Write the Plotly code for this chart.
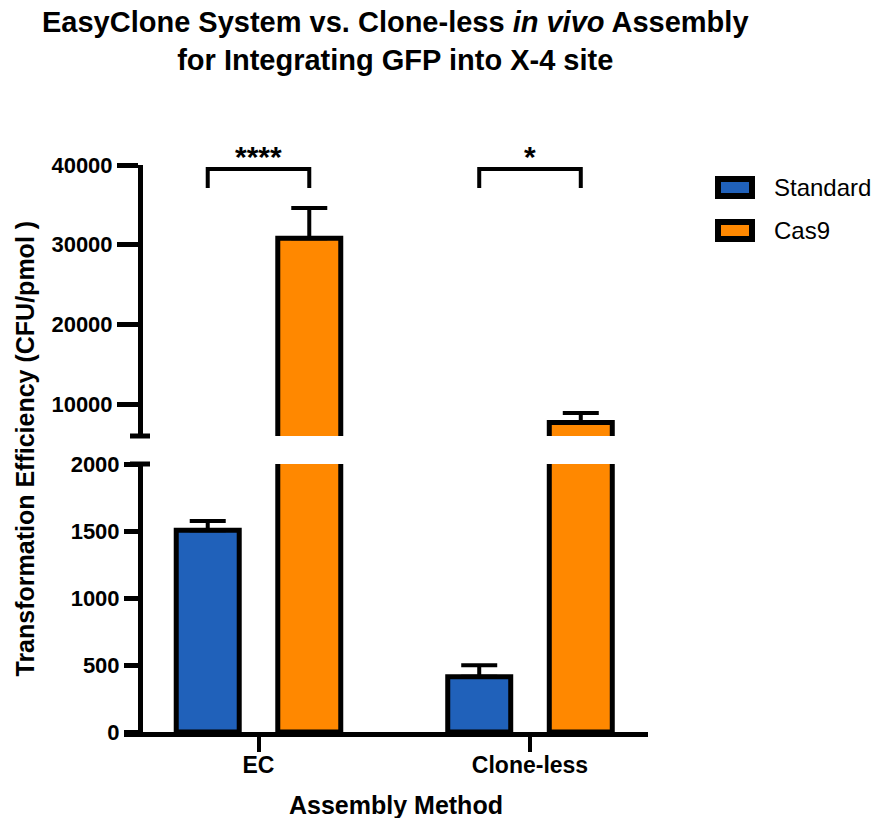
import plotly.graph_objects as go

# Data
categories = ["EC", "Clone-less"]
standard_mean = [1505, 413]
standard_err = [70, 85]
cas9_mean = [30800, 7680]
cas9_err = [3800, 1190]

bottom_ticks = [0, 500, 1000, 1500, 2000]
top_ticks = [10000, 20000, 30000, 40000]
significance = ["****", "*"]

BLUE = "#2061BA"
ORANGE = "#FF8800"
FONT = "Arial, Liberation Sans, sans-serif"

W, H = 875, 818
L, R, T, B = 143, 227, 165, 86
pw, ph = W - L - R, H - T - B

# pixel helpers for paper coordinates
def px_x(x):
    return (x - L) / pw

def px_y(y):
    return (H - B - y) / ph

bar_w = 0.232
half_gap = 0.187

bot_dom = [0, px_y(464)]
top_dom = [px_y(436), 1]

fig = go.Figure()
for yax in ["y", "y2"]:
    fig.add_trace(go.Bar(
        x=categories, y=standard_mean, yaxis=yax, name="Standard",
        width=bar_w, offset=-half_gap - bar_w / 2,
        marker=dict(color=BLUE, line=dict(color="black", width=5)),
        error_y=dict(type="data", symmetric=False, array=standard_err,
                     arrayminus=[0, 0], color="black", thickness=4, width=18),
        showlegend=False,
    ))
    fig.add_trace(go.Bar(
        x=categories, y=cas9_mean, yaxis=yax, name="Cas9",
        width=bar_w, offset=half_gap - bar_w / 2,
        marker=dict(color=ORANGE, line=dict(color="black", width=5)),
        error_y=dict(type="data", symmetric=False, array=cas9_err,
                     arrayminus=[0, 0], color="black", thickness=4, width=18),
        showlegend=False,
    ))

axis_common = dict(
    showline=True, linecolor="black", linewidth=5,
    ticks="outside", tickcolor="black", tickwidth=5,
    showgrid=False, zeroline=False,
    tickfont=dict(family=FONT, size=22, color="black", weight="bold"),
)

fig.update_layout(
    width=W, height=H,
    margin=dict(l=L, r=R, t=T, b=B),
    paper_bgcolor="white", plot_bgcolor="white",
    barmode="overlay",
    xaxis=dict(
        type="category", range=[-0.4254, 1.4346],
        showline=True, linecolor="black", linewidth=5,
        ticks="outside", tickcolor="black", tickwidth=4, ticklen=15,
        ticklabelstandoff=-7,
        showgrid=False, zeroline=False,
        tickfont=dict(family=FONT, size=23, color="black", weight="bold"),
    ),
    yaxis=dict(domain=bot_dom, range=[0, 2000], tickvals=bottom_ticks,
               ticklen=14, **axis_common),
    yaxis2=dict(domain=top_dom, range=[6000, 40000], tickvals=top_ticks,
                tickformat="d", ticklen=21, anchor="x", **axis_common),
)

shapes = []
annotations = []

# chart title
annotations.append(dict(
    text="<b>EasyClone System vs. Clone-less <i>in vivo</i> Assembly<br>"
         "for Integrating GFP into X-4 site</b>",
    x=0.5, xref="paper", xanchor="center",
    y=px_y(41), yref="paper", yanchor="middle",
    showarrow=False, align="center",
    font=dict(family=FONT, size=29, color="black"),
))

# axis break caps
shapes.append(dict(type="line", xref="paper", yref="paper",
                   x0=px_x(130), x1=px_x(150), y0=px_y(436), y1=px_y(436),
                   line=dict(color="black", width=5)))
shapes.append(dict(type="line", xref="paper", yref="paper",
                   x0=px_x(130), x1=px_x(150), y0=px_y(464), y1=px_y(464),
                   line=dict(color="black", width=5)))
# x-axis line running past the y-axis
shapes.append(dict(type="line", xref="paper", yref="paper",
                   x0=px_x(124), x1=0, y0=px_y(734.5), y1=px_y(734.5),
                   line=dict(color="black", width=5)))

# significance brackets
for i, label in enumerate(significance):
    x0, x1 = i - half_gap, i + half_gap
    y_top, y_leg = 39500, 37100
    shapes.append(dict(type="path", xref="x", yref="y2",
                       path=f"M {x0},{y_leg} L {x0},{y_top} L {x1},{y_top} L {x1},{y_leg}",
                       line=dict(color="black", width=4)))
    annotations.append(dict(text=f"<b>{label}</b>", x=i, xref="x",
                            y=px_y(156), yref="paper", showarrow=False,
                            xanchor="center", yanchor="middle",
                            font=dict(family=FONT, size=30, color="black")))

# legend
legend_items = [("Standard", BLUE, 187.5), ("Cas9", ORANGE, 230.5)]
for name, color, yc in legend_items:
    shapes.append(dict(type="rect", xref="paper", yref="paper",
                       x0=px_x(718), x1=px_x(752),
                       y0=px_y(yc - 8.5), y1=px_y(yc + 8.5),
                       fillcolor=color, line=dict(color="black", width=6)))
    annotations.append(dict(text=name, x=px_x(772), y=px_y(yc),
                            xref="paper", yref="paper", showarrow=False,
                            xanchor="left", yanchor="middle",
                            font=dict(family=FONT, size=24, color="black")))

# axis titles
annotations.append(dict(text="<b>Transformation Efficiency (CFU/pmol )</b>",
                        x=px_x(24), y=0.5, xref="paper", yref="paper",
                        textangle=-90, showarrow=False,
                        xanchor="center", yanchor="middle",
                        font=dict(family=FONT, size=25, color="black")))
annotations.append(dict(text="<b>Assembly Method</b>",
                        x=0.5, y=px_y(805), xref="paper", yref="paper",
                        showarrow=False, xanchor="center", yanchor="middle",
                        font=dict(family=FONT, size=25, color="black")))

fig.update_layout(shapes=shapes, annotations=annotations)
fig.write_html("out.html")
